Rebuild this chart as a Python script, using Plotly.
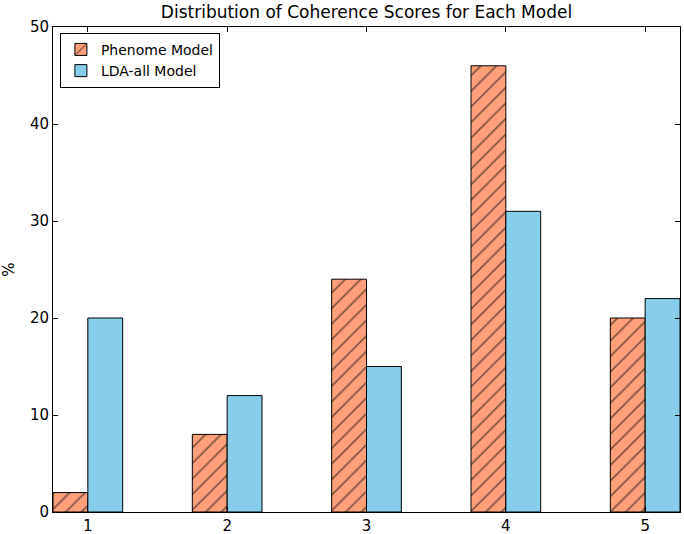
import plotly.graph_objects as go

scores = [1, 2, 3, 4, 5]
phenome = [2, 8, 24, 46, 20]
lda_all = [20, 12, 15, 31, 22]

fig = go.Figure()
fig.add_trace(go.Bar(
    x=scores, y=phenome, name="Phenome Model",
    offset=-0.25, width=0.25,
    marker=dict(color="#FFA07A", line=dict(color="black", width=1),
                pattern=dict(shape="/", fgcolor="black", bgcolor="#FFA07A",
                             size=11, solidity=0.15, fillmode="overlay")),
))
fig.add_trace(go.Bar(
    x=scores, y=lda_all, name="LDA-all Model",
    offset=0, width=0.25,
    marker=dict(color="#87CEEB", line=dict(color="black", width=1)),
))

axis_common = dict(showline=True, linecolor="black", linewidth=1, mirror="ticks",
                   ticks="inside", ticklen=5, tickcolor="black", showgrid=False,
                   zeroline=False, automargin=False,
                   tickfont=dict(family="DejaVu Sans", size=15, color="black"))

fig.update_layout(
    width=684, height=534,
    margin=dict(l=53, r=4, t=27, b=22),
    plot_bgcolor="white", paper_bgcolor="white",
    barmode="overlay",
    title=dict(text="Distribution of Coherence Scores for Each Model",
               x=366.5 / 684, xanchor="center", y=1 - 12 / 534, yanchor="middle",
               font=dict(family="DejaVu Sans", size=17, color="black")),
    xaxis=dict(range=[0.75, 5.25], tickvals=scores, ticktext=[str(s) for s in scores], **axis_common),
    yaxis=dict(range=[0, 50], tickvals=[0, 10, 20, 30, 40, 50],
               title=dict(text="%", font=dict(family="DejaVu Sans", size=15, color="black"), standoff=22),
               **axis_common),
    legend=dict(x=0.011, y=0.988, xanchor="left", yanchor="top",
                bordercolor="black", borderwidth=1, bgcolor="white",
                font=dict(family="DejaVu Sans", size=14, color="black"),
                tracegroupgap=0),
    showlegend=True,
)

fig.write_html("out.html", config={"displayModeBar": False},
               post_script="document.body.style.margin='0';document.body.style.padding='0';")
